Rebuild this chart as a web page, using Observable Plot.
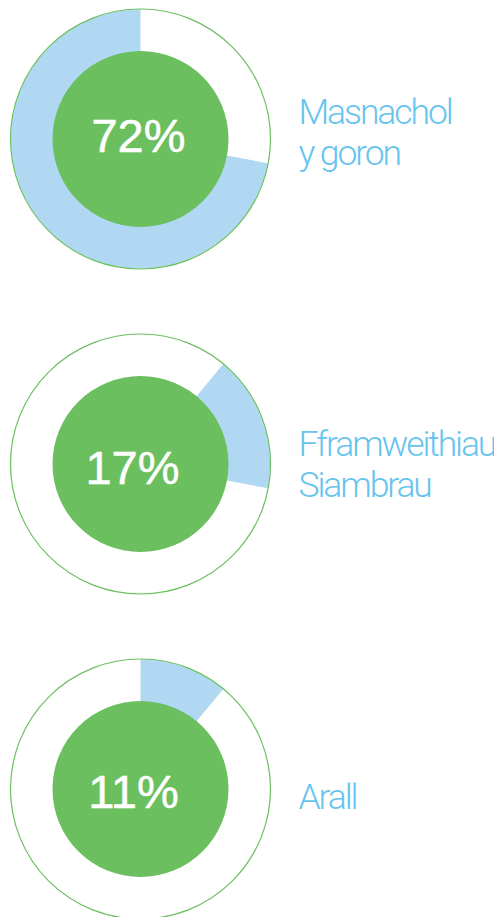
<!DOCTYPE html>
<html><head><meta charset="utf-8">
<script src="https://cdn.jsdelivr.net/npm/d3@7"></script>
<script src="https://cdn.jsdelivr.net/npm/@observablehq/plot@0.6"></script>
<style>
html,body{margin:0;padding:0;background:#fff;overflow:hidden;width:494px;height:917px}
#chart{margin-top:-24px}
#chart svg{display:block}
</style></head><body><div id="chart"></div>
<script>
// ---- data ----
const categories = ["Masnachol\ny goron", "Fframweithiau\nSiambrau", "Arall"];
const shares = [72, 17, 11];
const pctLabels = ["72%", "17%", "11%"];
// wedges are stacked clockwise from 12 o'clock in this order (indices into categories)
const stackOrder = [2, 1, 0];

// ---- style / layout ----
const BLUE = "#b0d8f3", GREEN = "#6bbf5f", LABEL = "#66c4ee";
const W = 494, H = 325, CX = 140, R_OUT = 130, R_WEDGE = 129.5, R_IN = 88;
const labelDy = [-8, -1, 7];
const pctDx = [-2, -8, -7];
const pctDy = [-2, 5, 4];

let acc = 0; const start = [];
for (const i of stackOrder) { start[i] = acc; acc += shares[i]; }
const total = acc;

function wedge(i) {
  const a0 = start[i] / total * 2 * Math.PI, a1 = (start[i] + shares[i]) / total * 2 * Math.PI;
  const n = Math.max(2, Math.ceil((a1 - a0) / (Math.PI / 180)));
  const pts = [{x: 0, y: 0}];
  for (let k = 0; k <= n; k++) {
    const a = a0 + (a1 - a0) * k / n;
    pts.push({x: R_WEDGE * Math.sin(a), y: R_WEDGE * Math.cos(a)});
  }
  pts.push({x: 0, y: 0});
  return pts;
}

const root = document.getElementById("chart");
categories.forEach((cat, i) => {
  const center = [{x: 0, y: 0, pct: pctLabels[i]}];
  const label = [{x: 158, y: 0, name: cat}];
  const chart = Plot.plot({
    width: W, height: H, margin: 0,
    x: {domain: [-CX, W - CX], axis: null},
    y: {domain: [-H / 2, H / 2], axis: null},
    style: {background: "white", overflow: "visible"},
    marks: [
      Plot.line(wedge(i), {x: "x", y: "y", fill: BLUE, stroke: "none"}),
      Plot.dot(center, {x: "x", y: "y", r: R_OUT, fill: "none", stroke: GREEN, strokeWidth: 1.2}),
      Plot.dot(center, {x: "x", y: "y", r: R_IN, fill: GREEN, stroke: "none"}),
      Plot.text(center, {x: "x", y: "y", text: "pct", fill: "white", stroke: "white", strokeWidth: 0.5,
        fontSize: 47, fontFamily: "'Liberation Sans', Arial, sans-serif",
        dx: pctDx[i], dy: pctDy[i]}),
      Plot.text(label, {x: "x", y: "y", text: "name", textAnchor: "start", lineAnchor: "middle",
        lineHeight: 1.16, fontSize: 35.5, fontWeight: 300, fill: LABEL,
        fontFamily: "Roboto, Lato, sans-serif", dy: labelDy[i]})
    ]
  });
  const groups = chart.querySelectorAll('g[aria-label="text"]');
  groups[groups.length - 1].style.letterSpacing = "-2.1px";
  root.appendChild(chart);
});
</script></body></html>
